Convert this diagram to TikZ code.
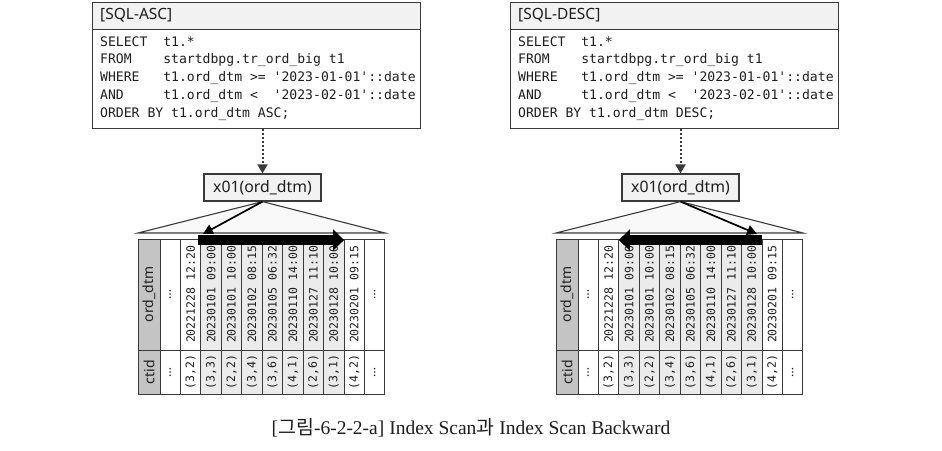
\documentclass[tikz,border=0pt]{standalone}
\usepackage{fontspec}
\setmainfont{Liberation Serif}
\setsansfont{Noto Sans}
\setmonofont{DejaVu Sans Mono}
\newfontfamily\krfont{Noto Sans CJK KR}
\usetikzlibrary{arrows.meta}
\definecolor{LineGray}{HTML}{3A3A3A}
\definecolor{HeadGray}{HTML}{C4C4C4}
\definecolor{ScanGray}{HTML}{EBEBEB}
\definecolor{BoxGray}{HTML}{F2F2F2}
\definecolor{TriGray}{HTML}{F9F9F9}
\definecolor{InkGray}{HTML}{1E1E1E}

\tikzset{
  boxline/.style={draw=LineGray, line width=1.2pt},
  sqlhead/.style={boxline, fill=BoxGray, anchor=north west, minimum width=328pt, minimum height=27pt, inner sep=0pt},
  sqlbody/.style={boxline, fill=white, anchor=north west, minimum width=328pt, minimum height=99pt, inner sep=0pt},
  sqltext/.style={anchor=west, inner sep=0pt, text=InkGray, font=\ttfamily\fontsize{13.1}{16}\selectfont},
  idxbox/.style={boxline, fill=BoxGray, minimum width=117pt, minimum height=27pt, inner sep=0pt, text=InkGray, font=\sffamily\fontsize{15.8}{18}\selectfont},
  cellline/.style={draw=LineGray, line width=1pt},
  celltext/.style={rotate=90, inner sep=0pt, text=InkGray, font=\ttfamily\fontsize{11.5}{13}\selectfont},
  headtext/.style={rotate=90, inner sep=0pt, text=InkGray, font=\sffamily\fontsize{14}{16}\selectfont},
  dottext/.style={rotate=90, inner sep=0pt, text=InkGray, font=\bfseries\fontsize{10}{10}\selectfont},
  feedarrow/.style={draw=LineGray, line width=2pt, dash pattern=on 2pt off 2pt, -{Triangle[length=9pt,width=10pt]}},
  pointarrow/.style={draw=black, line width=1.7pt, -{Triangle[length=10pt,width=10pt]}},
  scanarrow/.style={draw=black, line width=10pt, -{Triangle[length=11pt,width=21pt]}}
}

% one panel: query box, index node, leaf page
\newcommand{\idxpanel}[3]{%
\begin{scope}[xshift=#1, name prefix=#2-]
  \node[sqlhead] (head) at (92,2) {};
  \node[sqlbody] (sql) at (92,29) {};
  \node[anchor=west, inner sep=0pt, text=InkGray, font=\sffamily\fontsize{15.5}{18}\selectfont] (title) at (100,15.5) {[SQL-#3]};
  \node[sqltext] (q1) at (100,42) {SELECT\ \ t1.*};
  \node[sqltext] (q2) at (100,60) {FROM\ \ \ \ startdbpg.tr\_ord\_big t1};
  \node[sqltext] (q3) at (100,78) {WHERE\ \ \ t1.ord\_dtm >= '2023-01-01'::date};
  \node[sqltext] (q4) at (100,96) {AND\ \ \ \ \ t1.ord\_dtm <\ \ '2023-02-01'::date};
  \node[sqltext] (q5) at (100,114) {ORDER BY t1.ord\_dtm #3;};
  \node[idxbox] (idx) at (262.5,187.5) {x01(ord\_dtm)};
  \draw[feedarrow] (idx.north |- sql.south) -- (idx.north);
  \draw[boxline, line width=1.1pt, fill=TriGray] (idx.south) -- (138,233) -- (385,233) -- cycle;
  % leaf page
  \fill[HeadGray] (138,239) rectangle (160,394);
  \fill[ScanGray] (200.9,239) rectangle (344.1,394);
  \draw[cellline] (138,239) rectangle (160,350);
  \draw[cellline] (138,350) rectangle (160,394);
  \foreach \i in {0,...,10} {
    \draw[cellline] ({160+\i*20.45},239) rectangle +(20.45,111);
    \draw[cellline] ({160+\i*20.45},350) rectangle +(20.45,44);
    \coordinate (top\i) at ({160+\i*20.45},240);
  }
  \node[headtext] (hdtm) at (149,294.5) {ord\_dtm};
  \node[headtext] (hctid) at (149,372) {ctid};
  \foreach \dt/\ct [count=\i] in {20221228 12:20/{(3,2)}, 20230101 09:00/{(3,3)},
      20230101 10:00/{(2,2)}, 20230102 08:15/{(3,4)}, 20230105 06:32/{(3,6)},
      20230110 14:00/{(4,1)}, 20230127 11:10/{(2,6)}, 20230128 10:00/{(3,1)},
      20230201 09:15/{(4,2)}} {
    \node[celltext] (dtm\i) at ({170.2+\i*20.45},294.5) {\dt};
    \node[celltext] (ctid\i) at ({170.2+\i*20.45},372) {\ct};
  }
  \node[dottext] (dtm0) at (170.2,294.5) {\ldots};
  \node[dottext] (ctid0) at (170.2,372) {\ldots};
  \node[dottext] (dtm10) at (374.7,294.5) {\ldots};
  \node[dottext] (ctid10) at (374.7,372) {\ldots};
\end{scope}}

\begin{document}
\begin{tikzpicture}[x=1pt,y=-1pt]
\useasboundingbox[fill=white] (0,0) rectangle (942,450);
\idxpanel{0pt}{asc}{ASC}
\idxpanel{418pt}{desc}{DESC}
% forward scan
\draw[pointarrow] (asc-idx.south) -- ([shift={(2,-6)}]asc-top2);
\draw[scanarrow] ([xshift=-3pt]asc-top2) -- (asc-top9);
% backward scan
\draw[pointarrow] (desc-idx.south) -- ([shift={(-5,-6)}]desc-top9);
\draw[scanarrow] (desc-top9) -- (desc-top2);
\node[text=InkGray, font=\fontsize{19.5}{22}\selectfont] (caption) at (471,428)
  {[{\krfont 그림}-6-2-2-a] Index Scan{\krfont 과} Index Scan Backward};
\end{tikzpicture}
\end{document}
